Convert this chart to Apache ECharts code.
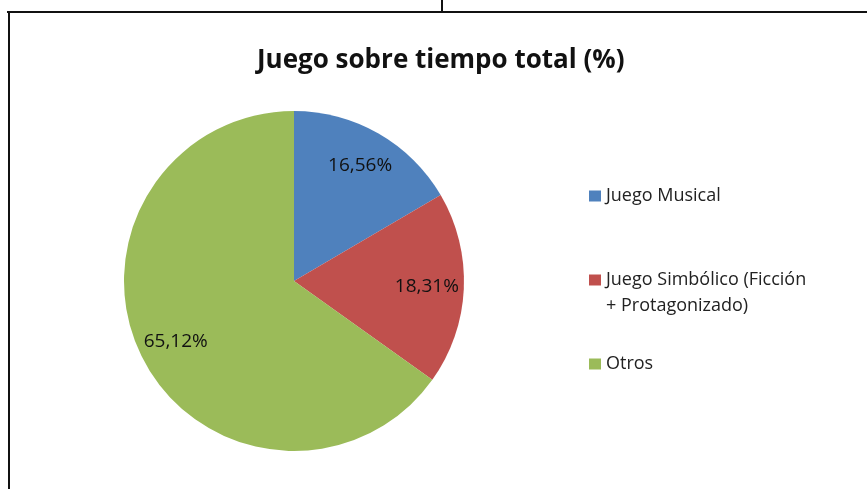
<!DOCTYPE html>
<html>
<head>
<meta charset="utf-8">
<script src="https://cdn.jsdelivr.net/npm/echarts@6/dist/echarts.min.js"></script>
<style>
  html, body { margin: 0; padding: 0; background: #fff; }
  #chart { width: 867px; height: 489px; }
</style>
</head>
<body>
<div id="chart"></div>
<script>
var categories = ['Juego Musical', 'Juego Simbólico (Ficción + Protagonizado)', 'Otros'];
var values = [16.56, 18.31, 65.12];
var colors = ['#4F81BD', '#C0504D', '#9BBB59'];

var fontFamily = '"Open Sans", Lato, sans-serif';

var pieData = categories.map(function (name, i) {
  return { name: name, value: values[i], itemStyle: { color: colors[i] } };
});

var legendText = {
  color: '#222',
  fontFamily: fontFamily,
  fontSize: 18,
  lineHeight: 26
};

// one legend per item, so the wrapped one can sit where it sits in the picture
var legendTops = [178, 236, 346];
var legends = categories.map(function (name, i) {
  return {
    data: [{ name: name, itemStyle: { color: colors[i] } }],
    left: 584,
    top: legendTops[i],
    icon: 'rect',
    itemWidth: 12,
    itemHeight: 11,
    itemGap: 0,
    selectedMode: false,
    formatter: function (n) {
      // empty first line keeps the square next to the first line of text
      return n.indexOf(' + ') > -1 ? ' \n' + n.replace(' + ', '\n+ ') : n;
    },
    textStyle: legendText
  };
});

var option = {
  backgroundColor: '#fff',
  animation: false,
  title: {
    text: 'Juego sobre tiempo total (%)',
    left: 252,
    top: 43,
    textStyle: {
      color: '#111',
      fontFamily: fontFamily,
      fontSize: 26,
      fontWeight: 'bold'
    }
  },
  legend: legends,
  graphic: [
    { type: 'line', shape: { x1: 7, y1: 12, x2: 867, y2: 12 }, style: { stroke: '#111', lineWidth: 2 } },
    { type: 'line', shape: { x1: 442, y1: 0, x2: 442, y2: 12 }, style: { stroke: '#111', lineWidth: 2 } },
    { type: 'line', shape: { x1: 9, y1: 11, x2: 9, y2: 489 }, style: { stroke: '#111', lineWidth: 2 } }
  ],
  series: [
    {
      type: 'pie',
      center: [294, 281],
      radius: [0, 170],
      startAngle: 90,
      clockwise: true,
      silent: true,
      label: { show: false },
      labelLine: { show: false },
      data: pieData
    },
    {
      // transparent ring only used to put the labels further out than the pie middle
      type: 'pie',
      center: [294, 281],
      radius: [90, 170],
      startAngle: 90,
      clockwise: true,
      silent: true,
      itemStyle: { color: 'rgba(0,0,0,0)' },
      label: {
        show: true,
        position: 'inside',
        color: '#111',
        fontFamily: fontFamily,
        fontSize: 19,
        formatter: function (p) {
          return p.value.toFixed(2).replace('.', ',') + '%';
        }
      },
      labelLine: { show: false },
      data: categories.map(function (name, i) {
        return { name: name, value: values[i] };
      })
    }
  ]
};

var myChart = echarts.init(document.getElementById('chart'));
myChart.setOption(option);
</script>
</body>
</html>
